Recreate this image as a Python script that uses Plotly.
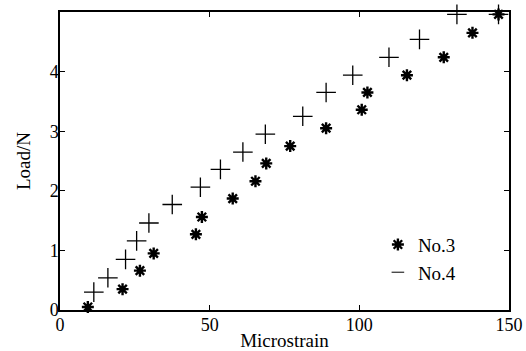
import plotly.graph_objects as go

# No.3 (asterisk) data
no3_x = [9.3, 20.9, 26.7, 31.3, 45.4, 47.4, 57.7, 65.3, 68.9, 76.9, 88.9, 100.8, 102.7, 115.9, 128.2, 137.8, 146.5]
no3_y = [0.05, 0.35, 0.66, 0.95, 1.27, 1.56, 1.87, 2.16, 2.46, 2.75, 3.05, 3.36, 3.65, 3.94, 4.24, 4.65, 4.96]

# No.4 (plus) data
no4_x = [11.3, 16.0, 21.9, 25.6, 29.7, 37.5, 46.9, 53.6, 61.1, 68.6, 81.1, 88.9, 97.8, 109.9, 120.1, 132.6, 146.5]
no4_y = [0.30, 0.54, 0.85, 1.16, 1.46, 1.77, 2.06, 2.36, 2.65, 2.95, 3.25, 3.65, 3.94, 4.24, 4.54, 4.96, 4.96]

x_ticks = [0, 50, 100, 150]
y_ticks = [0, 1, 2, 3, 4]

FONT = "Liberation Serif"

fig = go.Figure()
fig.add_trace(go.Scatter(
    x=no4_x, y=no4_y, mode="markers", name="No.4", showlegend=False,
    marker=dict(symbol="cross-thin-open", size=14, color="black",
                line=dict(color="black", width=1.3)),
    cliponaxis=False,
))
fig.add_trace(go.Scatter(
    x=no3_x, y=no3_y, mode="markers", name="No.3",
    marker=dict(symbol="asterisk-open", size=10, color="black",
                line=dict(color="black", width=2.4)),
    cliponaxis=False,
))
fig.add_trace(go.Scatter(
    x=[None], y=[None], mode="markers", name="No.4",
    marker=dict(symbol="line-ew-open", size=9, color="black",
                line=dict(color="black", width=1)),
))

axis_common = dict(
    showline=True, linecolor="black", linewidth=1.5, mirror="ticks",
    ticks="inside", ticklen=5, tickwidth=1, tickcolor="black",
    showgrid=False, zeroline=False, automargin=False,
    tickfont=dict(family=FONT, size=18, color="black"),
)

fig.update_layout(
    width=526, height=351,
    margin=dict(l=60, r=17, t=12, b=41),
    paper_bgcolor="white", plot_bgcolor="white",
    font=dict(family=FONT, color="black", size=18),
    xaxis=dict(range=[0, 150], tickvals=x_ticks, ticklabelstandoff=-2, **axis_common,
               title=dict(text="Microstrain", font=dict(family=FONT, size=19), standoff=0)),
    yaxis=dict(range=[0, 5], tickvals=y_ticks, ticklabelstandoff=-4, **axis_common,
               title=dict(text="Load/N", font=dict(family=FONT, size=19), standoff=14)),
    legend=dict(x=0.708, y=0.283, xanchor="left", yanchor="top",
                bgcolor="rgba(0,0,0,0)", borderwidth=0,
                font=dict(family=FONT, size=19, color="black")),
)

# remove the browser's default 8px body margin so the figure fills the window
fig.write_html("out.html", config={"displayModeBar": False},
               post_script="document.body.style.margin='0';")
